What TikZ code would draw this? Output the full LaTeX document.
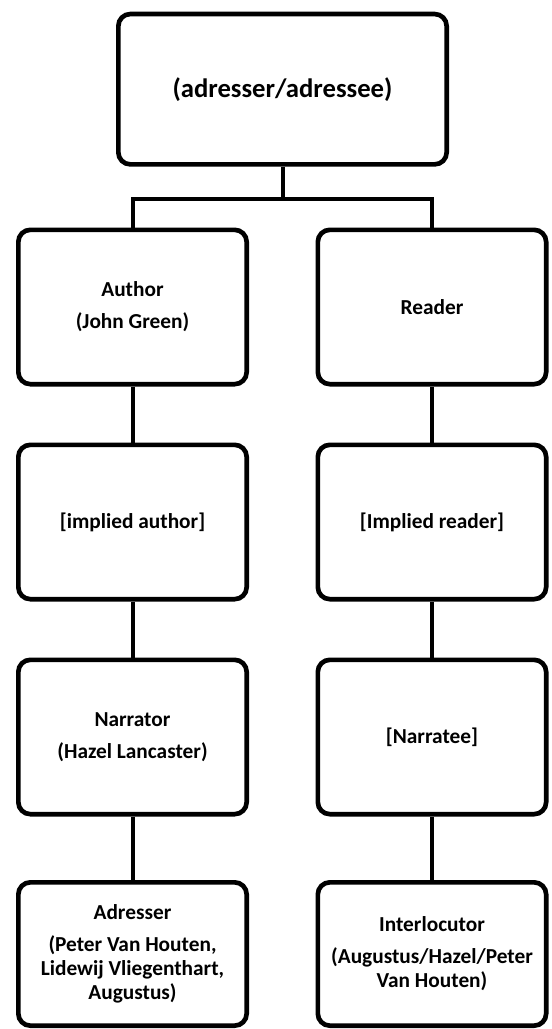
\documentclass[tikz,border=0pt]{standalone}
\usepackage{fontspec}
\setmainfont{Carlito}

\begin{document}
\begin{tikzpicture}[x=0.75pt,y=0.75pt,yscale=-1,xscale=1,
  roundbox/.style={draw, line width=3.5pt, rounded corners=9pt, align=center, inner sep=2pt,
    minimum width=171.25pt, minimum height=115.75pt, font=\fontsize{16}{18}\selectfont\bfseries},
  link/.style={line width=3pt}]
\useasboundingbox (0,0) rectangle (551,1029);

%Shape: Rounded Rect [id:comm] 
\node [roundbox, minimum width=246.25pt, minimum height=112.75pt, font=\fontsize{20}{24}\selectfont\bfseries] (comm) at (282.5,89.2) {(adresser/adressee)};

%Shape: Rounded Rect, left column
\node [roundbox] (author) at (132.5,307) {Author\\[6pt](John Green)};
\node [roundbox] (implauthor) at (132.5,522) {[implied author]};
\node [roundbox] (narrator) at (132.5,737) {Narrator\\[6pt](Hazel Lancaster)};
\node [roundbox, minimum height=107.5pt] (adresser) at (132.5,954) {Adresser\\[6pt](Peter Van Houten,\\Lidewij Vliegenthart,\\Augustus)};

%Shape: Rounded Rect, right column
\node [roundbox] (reader) at (432,307) {Reader};
\node [roundbox] (implreader) at (432,522) {[Implied reader]};
\node [roundbox] (narratee) at (432,737) {[Narratee]};
\node [roundbox, minimum height=107.5pt] (interloc) at (432,954) {Interlocutor\\[6pt](Augustus/Hazel/Peter\\Van Houten)};

%Straight Lines: fork under the top box
\coordinate (fork) at (282.5,198.7);
\draw [link] (comm) -- (fork);
\draw [link] (author) |- (fork) -| (reader);

%Straight Lines: left column
\draw [link] (author) -- (implauthor);
\draw [link] (implauthor) -- (narrator);
\draw [link] (narrator) -- (adresser);

%Straight Lines: right column
\draw [link] (reader) -- (implreader);
\draw [link] (implreader) -- (narratee);
\draw [link] (narratee) -- (interloc);

\end{tikzpicture}
\end{document}
